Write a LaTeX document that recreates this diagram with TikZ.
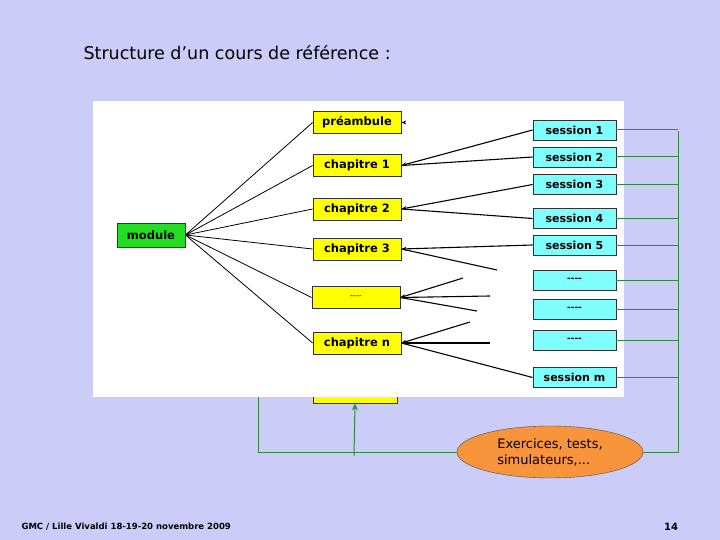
\documentclass[tikz,border=0pt]{standalone}
\usepackage{fontspec}
\setmainfont{DejaVu Sans}
\usetikzlibrary{shapes.geometric,arrows.meta}
\definecolor{bg}{HTML}{CCCCF8}
\definecolor{gline}{HTML}{2E8B3E}
\definecolor{ybox}{HTML}{FFFF00}
\definecolor{cbox}{HTML}{80FFFF}
\definecolor{mbox}{HTML}{22DD22}
\definecolor{oell}{HTML}{F7943C}
\newcommand{\dsh}{{-}{-}{-}{-}}
\tikzset{
 yb/.style={draw=black!80,line width=0.8pt,fill=ybox,minimum width=88pt,minimum height=22pt,inner sep=0pt,font=\bfseries\fontsize{11.5}{13}\selectfont},
 cb/.style={draw=black!80,line width=0.8pt,fill=cbox,minimum width=83pt,minimum height=20pt,inner sep=0pt,font=\bfseries\fontsize{11}{13}\selectfont},
 ln/.style={black,line width=1.1pt},
 gl/.style={gline,line width=1pt},
}
\begin{document}
\begin{tikzpicture}[x=1pt,y=-1pt]
\fill[bg] (0,0) rectangle (720,540);
\node[anchor=west,font=\fontsize{17.5}{20}\selectfont] (title) at (80,53) {Structure d'un cours de référence :};
\node[anchor=west,font=\bfseries\fontsize{8.5}{10}\selectfont] (foot) at (18,527) {GMC / Lille Vivaldi 18-19-20 novembre 2009};
\node[font=\bfseries\fontsize{10}{11}\selectfont] (pg) at (671,527) {14};
\node[yb,minimum width=84pt,minimum height=30pt] (yl) at (355,388) {};
\node[draw=black!70,fill=oell,ellipse,minimum width=186pt,minimum height=52pt,align=left,inner sep=0pt,font=\fontsize{13}{16}\selectfont] (ex) at (550,452) {Exercices, tests,\\simulateurs,...};
\coordinate (gL) at (258,397);
\draw[gl] (gL) |- (ex.west);
\draw[gl,-{Stealth[length=7pt,width=6pt]}] (354,456) -- (yl.south);
\fill[white] (93,101) rectangle (624,397);
\node[draw=black!80,line width=0.8pt,fill=mbox,minimum width=68pt,minimum height=24pt,inner sep=0pt,font=\bfseries\fontsize{11.5}{13}\selectfont] (mod) at (151,235) {module};
\node[yb] (pr) at (357,122.5) {préambule};
\node[yb] (c1) at (357,165.5) {chapitre 1};
\node[yb] (c2) at (357,209) {chapitre 2};
\node[yb] (c3) at (357,249) {chapitre 3};
\node[yb,font=\fontsize{8}{10}\selectfont] (cd) at (356,297.5) {\dsh};
\node[yb] (cn) at (357,343) {chapitre n};
\node[cb] (s1) at (574.5,130) {session 1};
\node[cb] (s2) at (574.5,157) {session 2};
\node[cb] (s3) at (574.5,184.5) {session 3};
\node[cb] (s4) at (574.5,218.5) {session 4};
\node[cb] (s5) at (574.5,245) {session 5};
\node[cb,font=\bfseries\fontsize{9}{10}\selectfont] (d1) at (574.5,280) {\dsh};
\node[cb,font=\bfseries\fontsize{9}{10}\selectfont] (d2) at (574.5,309) {\dsh};
\node[cb,font=\bfseries\fontsize{9}{10}\selectfont] (d3) at (574.5,340) {\dsh};
\node[cb] (sm) at (574.5,377.5) {session m};
\foreach \b in {pr,c1,c2,c3,cd,cn} \draw[black,line width=0.8pt] (mod.east) -- (\b.west);
\coordinate (f1) at (497,270);
\coordinate (f2) at (463,278);
\coordinate (f3) at (490,296);
\coordinate (f4) at (477,311);
\coordinate (f5) at (470,322);
\coordinate (f6) at (490,343);
\tikzset{tip/.style={{Stealth[length=5pt,width=4pt]}-}}
\draw[ln,tip] (c1.east) -- (s1.west);
\draw[ln] (c1.east) -- (s2.west);
\draw[ln,tip] (c2.east) -- (s3.west);
\draw[ln] (c2.east) -- (s4.west);
\draw[ln,tip] (c3.east) -- (s5.west);
\draw[ln] (c3.east) -- (f1);
\draw[ln,tip] (cd.east) -- (f2);
\draw[ln] (cd.east) -- (f3);
\draw[ln] (cd.east) -- (f4);
\draw[ln,tip] (cn.east) -- (f5);
\draw[ln] (cn.east) -- (f6);
\draw[ln] (cn.east) -- (sm.west);
\draw[ln,tip] (pr.east) -- ++(4,0);
\coordinate (gR) at (678,131);
\foreach \s in {s1,s2,s3,s4,s5,d1,d2,d3,sm} \draw[gl] (\s.east) -- (\s.east -| gR);
\draw[gl] (gR) |- (ex.east);
\end{tikzpicture}
\end{document}
